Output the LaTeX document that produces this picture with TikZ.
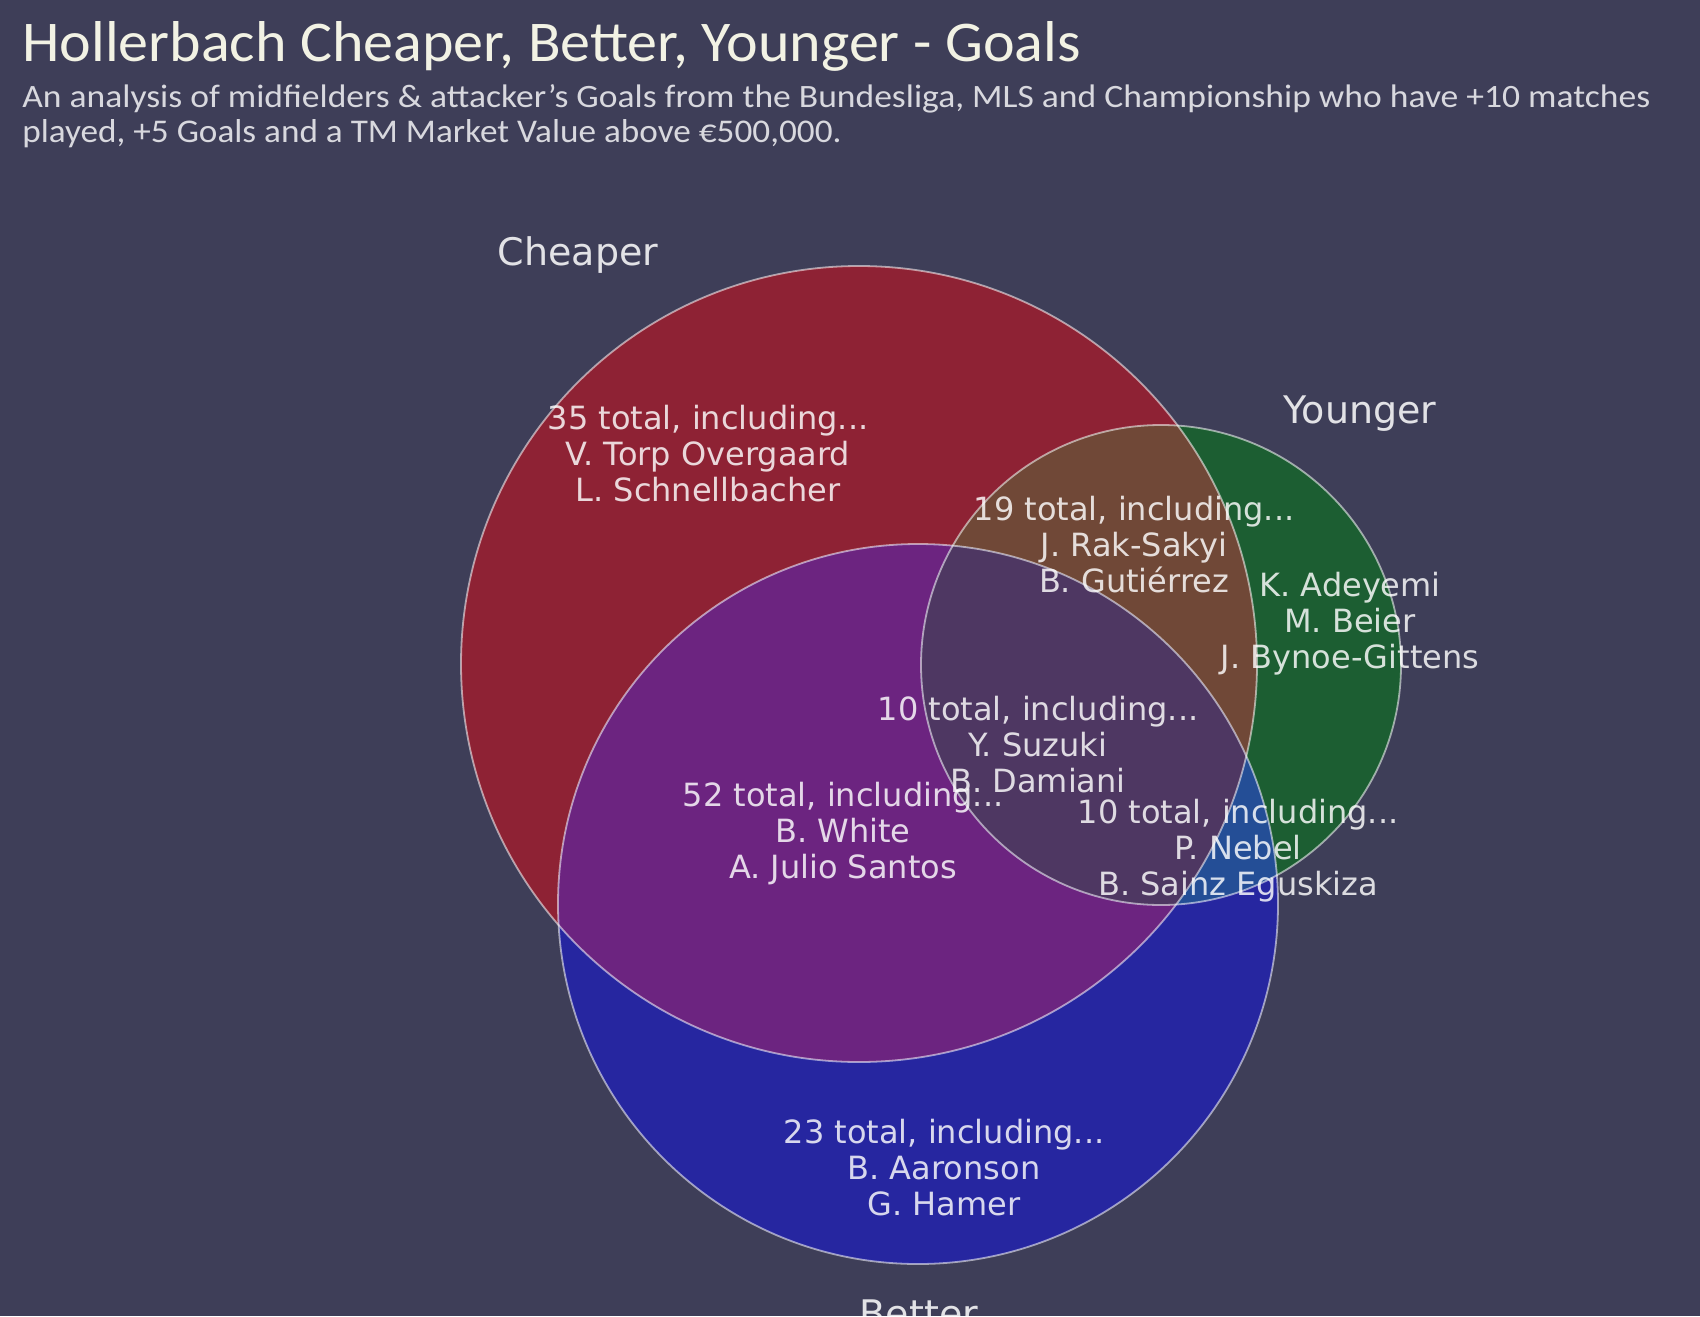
\documentclass[tikz,border=0pt]{standalone}
\usepackage{fontspec}
\usepackage{graphicx}
\setmainfont{DejaVu Sans}
\newfontfamily\titlefont{Carlito}
\definecolor{bgc}{RGB}{62,62,88}
\definecolor{cred}{RGB}{142,34,52}
\definecolor{cgreen}{RGB}{28,94,50}
\definecolor{cblue}{RGB}{38,38,160}
\definecolor{credblue}{RGB}{108,36,128}
\definecolor{credgreen}{RGB}{112,72,55}
\definecolor{cbluegreen}{RGB}{36,78,150}
\definecolor{call}{RGB}{78,55,98}
\definecolor{titlec}{RGB}{242,242,228}
\definecolor{subc}{RGB}{216,216,222}
\tikzset{
  regtext/.style={text=white, text opacity=0.82, align=center,
    font=\fontsize{16}{18}\selectfont, inner sep=0pt},
  setlabel/.style={text=white, text opacity=0.85, font=\fontsize{19}{22}\selectfont, inner sep=0pt},
  rim/.style={draw=white, draw opacity=0.55, line width=0.9pt}
}
\begin{document}
\begin{tikzpicture}[x=0.5pt,y=-0.5pt]
\useasboundingbox (0,0) rectangle (1700,1316);
\clip (0,0) rectangle (1700,1316);
\fill[bgc] (0,0) rectangle (1700,1316);
\coordinate (C) at (859,664);
\coordinate (Y) at (1161,665);
\coordinate (B) at (918,904);
\def\rC{199pt}\def\rY{120pt}\def\rB{180pt}
% single sets
\fill[cred] (C) circle[radius=\rC];
\fill[cgreen] (Y) circle[radius=\rY];
\fill[cblue] (B) circle[radius=\rB];
% pairwise
\begin{scope}
  \clip (C) circle[radius=\rC];
  \fill[credgreen] (Y) circle[radius=\rY];
  \fill[credblue] (B) circle[radius=\rB];
\end{scope}
\begin{scope}
  \clip (Y) circle[radius=\rY];
  \fill[cbluegreen] (B) circle[radius=\rB];
\end{scope}
\begin{scope}
  \clip (C) circle[radius=\rC];
  \clip (Y) circle[radius=\rY];
  \fill[call] (B) circle[radius=\rB];
\end{scope}
% outlines
\draw[rim] (C) circle[radius=\rC];
\draw[rim] (Y) circle[radius=\rY];
\draw[rim] (B) circle[radius=\rB];
% title
\node[anchor=base west, inner sep=0pt, text=titlec] (title) at (22,62)
  {\resizebox{529pt}{20pt}{\titlefont Hollerbach Cheaper, Better, Younger - Goals}};
\node[anchor=base west, inner sep=0pt, text=subc] (sub1) at (22,108)
  {\resizebox{814pt}{11.5pt}{\titlefont An analysis of midfielders \& attacker’s Goals from the Bundesliga, MLS and Championship who have +10 matches}};
\node[anchor=base west, inner sep=0pt, text=subc] (sub2) at (22,143)
  {\resizebox{409.5pt}{11.5pt}{\titlefont played, +5 Goals and a TM Market Value above €500,000.}};
% set labels
\node[setlabel] (lc) at (578,255) {Cheaper};
\node[setlabel] (ly) at (1360,414) {Younger};
\node[setlabel, anchor=north] (lb) at (919,1299) {Better};
% region texts
\node[regtext] (r1) at (708,454) {35 total, including...\\V. Torp Overgaard\\L. Schnellbacher};
\node[regtext] (r2) at (1134,545) {19 total, including...\\J. Rak-Sakyi\\B. Gutiérrez};
\node[regtext] (r3) at (1350,624) {K. Adeyemi\\M. Beier\\J. Bynoe-Gittens};
\node[regtext] (r4) at (1038,745) {10 total, including...\\Y. Suzuki\\B. Damiani};
\node[regtext] (r5) at (843,834) {52 total, including...\\B. White\\A. Julio Santos};
\node[regtext] (r6) at (1238,851) {10 total, including...\\P. Nebel\\B. Sainz Eguskiza};
\node[regtext] (r7) at (944,1168) {23 total, including...\\B. Aaronson\\G. Hamer};
\end{tikzpicture}
\end{document}
